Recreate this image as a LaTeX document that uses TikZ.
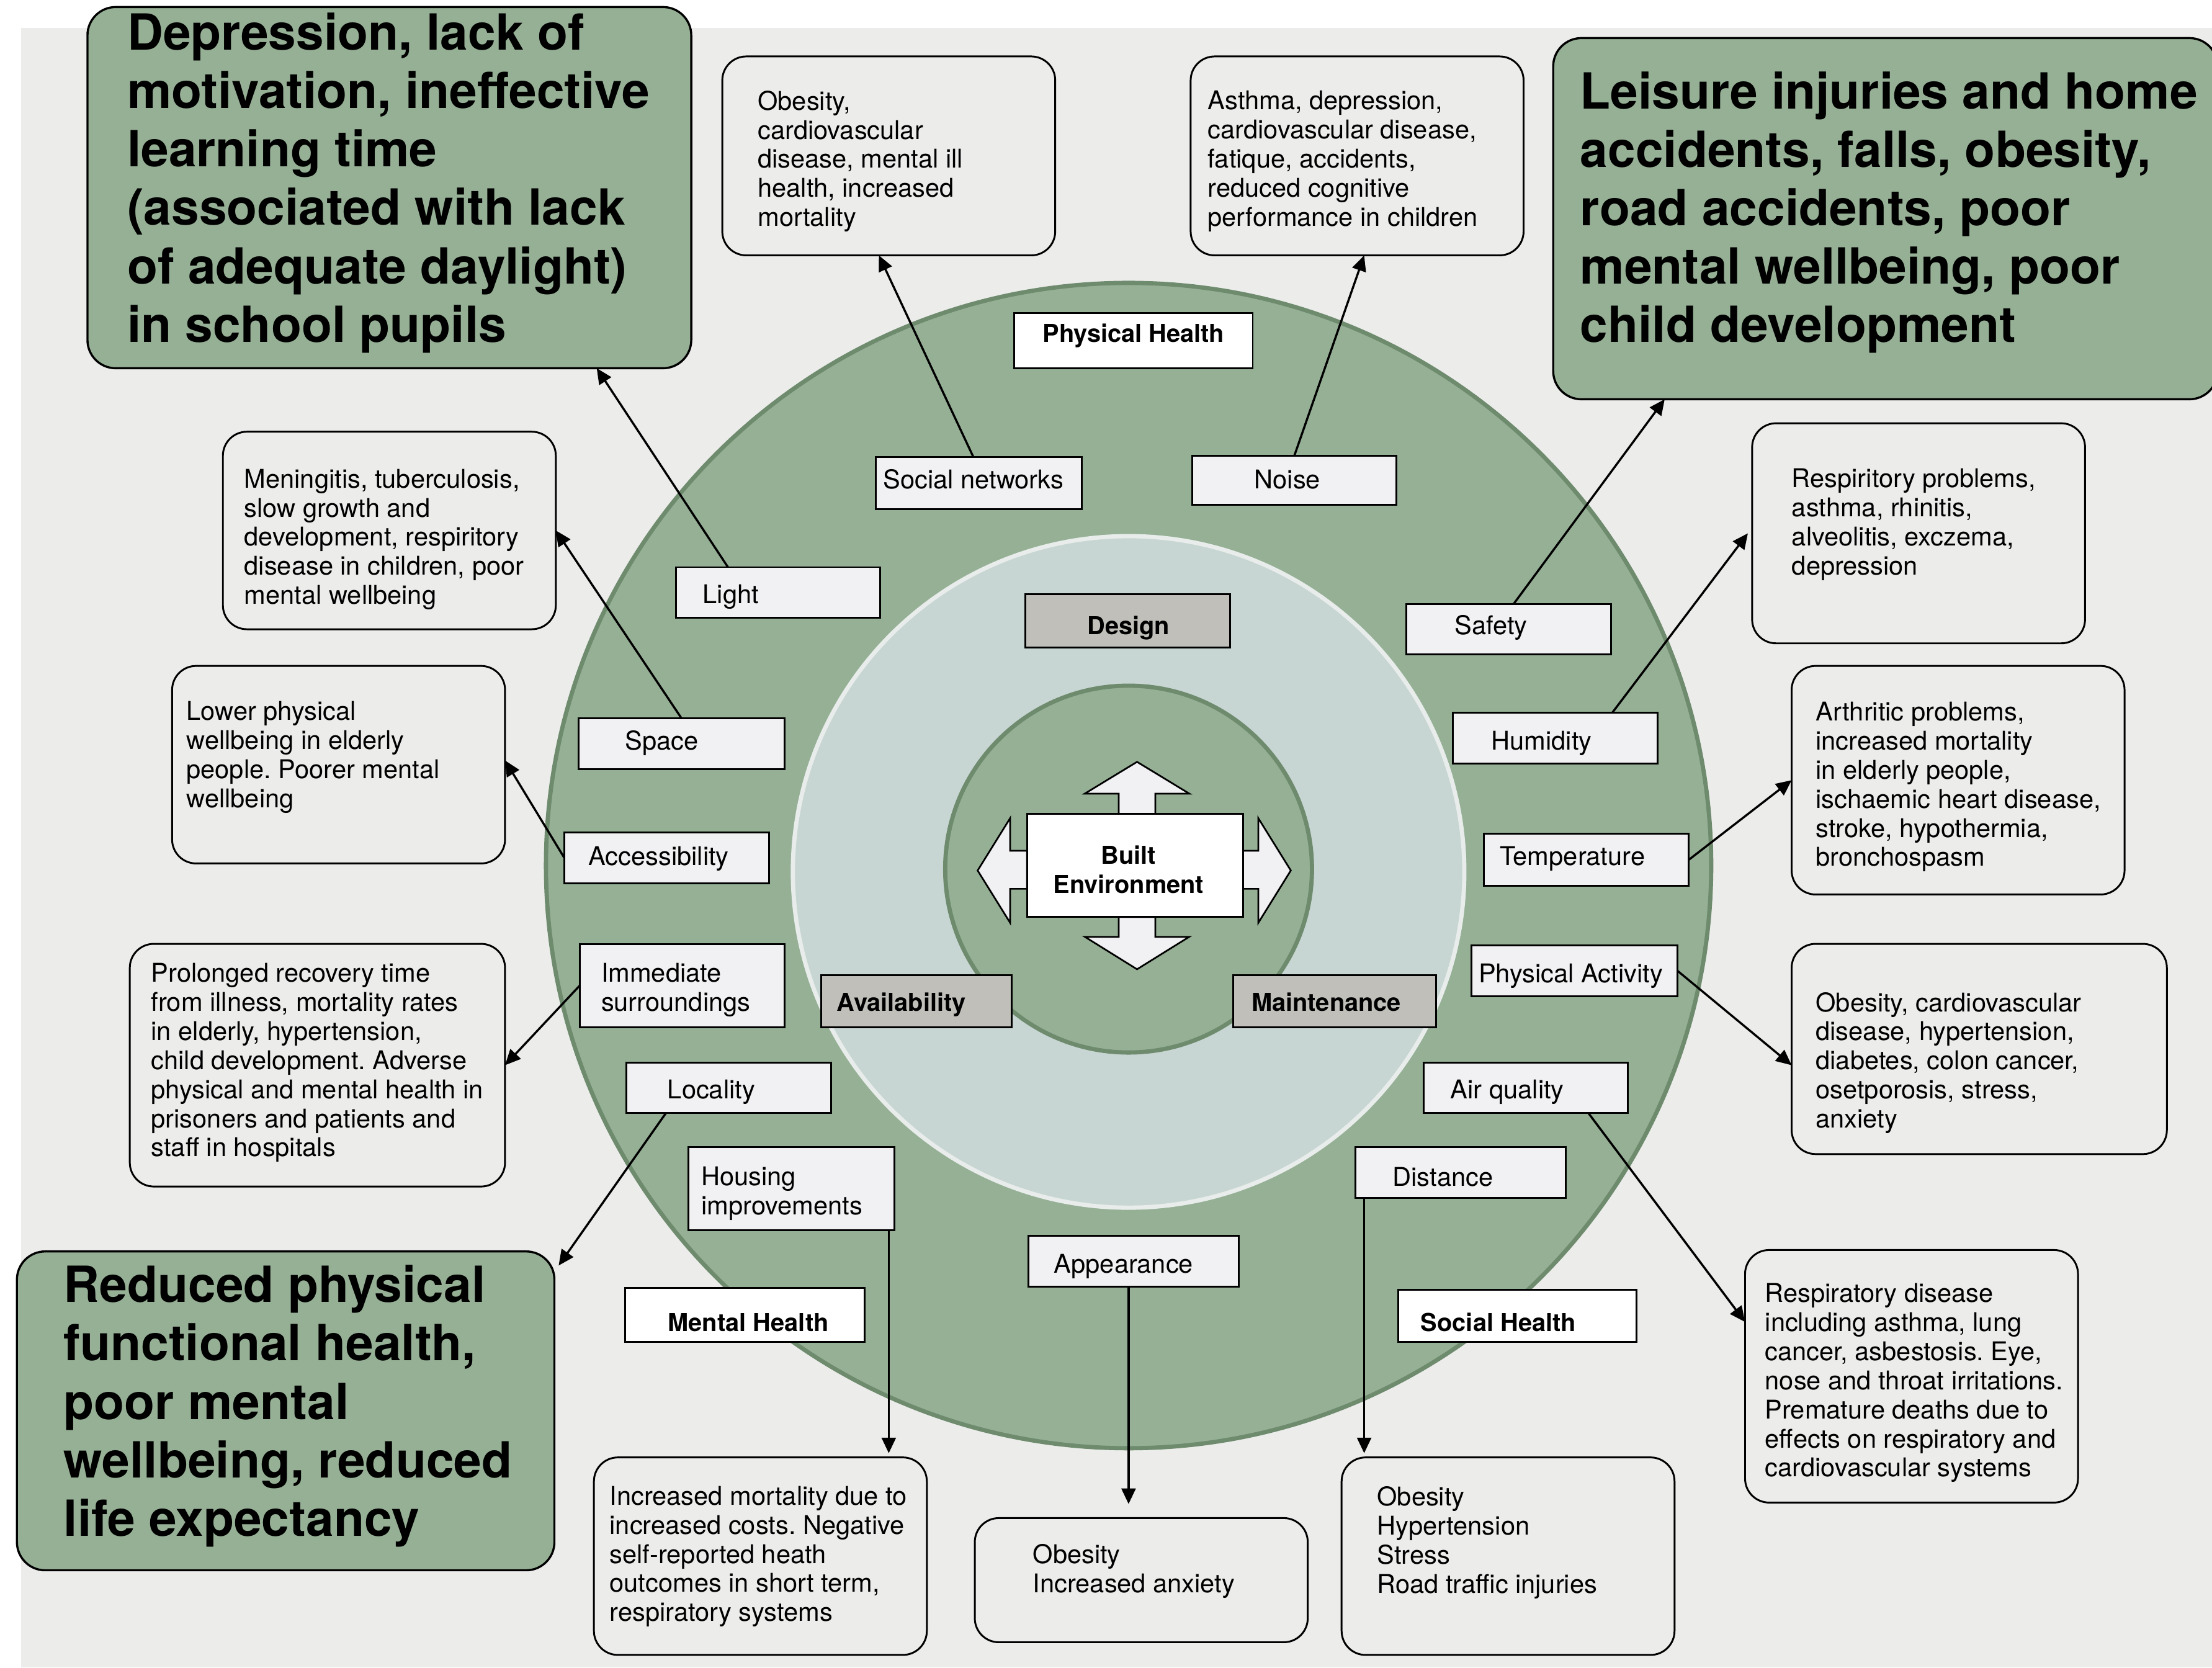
\documentclass[tikz,border=0pt]{standalone}
\usepackage{fontspec}
\setmainfont{TeX Gyre Heros}
\usetikzlibrary{arrows.meta}
\frenchspacing
\definecolor{panel}{HTML}{ECEDEB}
\definecolor{ring}{HTML}{96B096}
\definecolor{ringedge}{HTML}{6E8B6E}
\definecolor{midc}{HTML}{C8D6D3}
\definecolor{midedge}{HTML}{E8EDEB}
\definecolor{labfill}{HTML}{F1F0F2}
\definecolor{greylab}{HTML}{C0BFBA}
\tikzset{
 bigbox/.style={draw=black, line width=1.5pt, fill=ring, rounded corners=20pt, inner sep=0pt, outer sep=0pt},
 resbox/.style={draw=black, line width=1.3pt, fill=panel, rounded corners=17pt, inner sep=0pt, outer sep=0pt},
 factor/.style={draw=black, line width=1.3pt, fill=labfill, inner sep=0pt, outer sep=0pt},
 healthlab/.style={factor, fill=white},
 greybox/.style={factor, fill=greylab},
 txt/.style={inner sep=0pt, align=left, anchor=west, font=\fontsize{18.3}{20.6}\selectfont\frenchspacing, execute at begin node=\strut, execute at end node=\strut},
 bigtxt/.style={inner sep=0pt, align=left, anchor=west, font=\fontsize{35.3}{41.4}\selectfont\bfseries, execute at begin node=\strut, execute at end node=\strut},
 boldtxt/.style={inner sep=0pt, align=center, anchor=west, font=\fontsize{17.5}{20.6}\selectfont\bfseries, execute at begin node=\strut, execute at end node=\strut},
 conn/.style={line width=1.5pt, -{Triangle[length=11pt,width=10pt]}},
 bearrow/.style={draw=black, line width=1.2pt, fill=labfill, line join=miter},
}
\begin{document}
\frenchspacing
\begin{tikzpicture}[x=1pt,y=-1pt]
\useasboundingbox (0,0) rectangle (1568,1182);
\fill[white] (0,0) rectangle (1568,1182);
\fill[panel] (15,20) rectangle (1568,1182);

% rings
\fill[ring] (800,613.5) circle[radius=413pt];
\draw[ringedge, line width=3pt] (800,613.5) circle[radius=413pt];
\fill[midc] (800,618) circle[radius=238pt];
\draw[midedge, line width=3pt] (800,618) circle[radius=238pt];
\fill[ring] (800,616) circle[radius=130pt];
\draw[ringedge, line width=3pt] (800,616) circle[radius=130pt];

% big outcome boxes
\node[bigbox, minimum width=428pt, minimum height=256pt] (bigTL) at (276,133) {};
\node[bigbox, minimum width=471pt, minimum height=256pt] (bigTR) at (1336.5,155) {};
\node[bigbox, minimum width=381pt, minimum height=226pt] (bigBL) at (202.5,1000) {};
\node[bigtxt] (tTL) at (90,132) {Depression, lack of\\motivation, ineffective\\learning time\\(associated with lack\\of adequate daylight)\\in school pupils};
\node[bigtxt] (tTR) at (1120,153) {Leisure injuries and home\\accidents, falls, obesity,\\road accidents, poor\\mental wellbeing, poor\\child development};
\node[bigtxt] (tBL) at (45,999) {Reduced physical\\functional health,\\poor mental\\wellbeing, reduced\\life expectancy};

% small outcome boxes
\node[resbox, minimum width=236pt, minimum height=141pt] (rObes) at (630,110.5) {};
\node[resbox, minimum width=236pt, minimum height=141pt] (rAsth) at (962,110.5) {};
\node[resbox, minimum width=236pt, minimum height=140pt] (rMen) at (276,376) {};
\node[resbox, minimum width=236pt, minimum height=140pt] (rLow) at (240,542) {};
\node[resbox, minimum width=266pt, minimum height=172pt] (rProl) at (225,755) {};
\node[resbox, minimum width=236pt, minimum height=140pt] (rInc) at (539,1103) {};
\node[resbox, minimum width=236pt, minimum height=88pt] (rObAnx) at (809,1120) {};
\node[resbox, minimum width=236pt, minimum height=140pt] (rObHyp) at (1069,1103) {};
\node[resbox, minimum width=236pt, minimum height=179pt] (rResp) at (1355,975.5) {};
\node[resbox, minimum width=266pt, minimum height=149pt] (rObR) at (1403,743.5) {};
\node[resbox, minimum width=236pt, minimum height=162pt] (rArth) at (1388,553) {};
\node[resbox, minimum width=236pt, minimum height=156pt] (rRespi) at (1360,378) {};

\node[txt] (tObes) at (537,115.4) {Obesity,\\cardiovascular\\disease, mental ill\\health, increased\\mortality};
\node[txt] (tAsth) at (856,115.4) {Asthma, depression,\\cardiovascular disease,\\fatique, accidents,\\reduced cognitive\\performance in children};
\node[txt] (tMen) at (173,383.4) {Meningitis, tuberculosis,\\slow growth and\\development, respiritory\\disease in children, poor\\mental wellbeing};
\node[txt] (tLow) at (132,537.9) {Lower physical\\wellbeing in elderly\\people. Poorer mental\\wellbeing};
\node[txt] (tProl) at (107,754.4) {Prolonged recovery time\\from illness, mortality rates\\in elderly, hypertension,\\child development. Adverse\\physical and mental health in\\prisoners and patients and\\staff in hospitals};
\node[txt] (tInc) at (432,1104.4) {Increased mortality due to\\increased costs. Negative\\self-reported heath\\outcomes in short term,\\respiratory systems};
\node[txt] (tObAnx) at (732,1114.9) {Obesity\\Increased anxiety};
\node[txt] (tObHyp) at (976,1094.4) {Obesity\\Hypertension\\Stress\\Road traffic injuries};
\node[txt] (tResp) at (1251,981.4) {Respiratory disease\\including asthma, lung\\cancer, asbestosis. Eye,\\nose and throat irritations.\\Premature deaths due to\\effects on respiratory and\\cardiovascular systems};
\node[txt] (tObR) at (1287,754.4) {Obesity, cardiovascular\\disease, hypertension,\\diabetes, colon cancer,\\osetporosis, stress,\\anxiety};
\node[txt] (tArth) at (1287,558.9) {Arthritic problems,\\increased mortality\\in elderly people,\\ischaemic heart disease,\\stroke, hypothermia,\\bronchospasm};
\node[txt] (tRespi) at (1270,372.9) {Respiritory problems,\\asthma, rhinitis,\\alveolitis, exczema,\\depression};

% factor labels on the outer ring
\node[healthlab, minimum width=169pt, minimum height=39pt] (lPH) at (803.5,241.5) {};
\node[factor, minimum width=146pt, minimum height=37pt] (lSoc) at (694,342.5) {};
\node[factor, minimum width=145pt, minimum height=35pt] (lNoise) at (917.5,340.5) {};
\node[factor, minimum width=145pt, minimum height=36pt] (lLight) at (551.5,420) {};
\node[factor, minimum width=145pt, minimum height=36pt] (lSafety) at (1069.5,446) {};
\node[factor, minimum width=146pt, minimum height=36pt] (lSpace) at (483,527) {};
\node[factor, minimum width=145pt, minimum height=36pt] (lHum) at (1102.5,523) {};
\node[factor, minimum width=145pt, minimum height=36pt] (lAcc) at (472.5,608) {};
\node[factor, minimum width=145pt, minimum height=37pt] (lTemp) at (1124.5,609.5) {};
\node[factor, minimum width=145pt, minimum height=59pt] (lImm) at (483.5,698.5) {};
\node[factor, minimum width=146pt, minimum height=36pt] (lPA) at (1116,688) {};
\node[factor, minimum width=145pt, minimum height=36pt] (lLoc) at (516.5,771) {};
\node[factor, minimum width=145pt, minimum height=36pt] (lAir) at (1081.5,771) {};
\node[factor, minimum width=146pt, minimum height=59pt] (lHous) at (561,842.5) {};
\node[factor, minimum width=149pt, minimum height=36pt] (lDist) at (1035.5,831) {};
\node[factor, minimum width=149pt, minimum height=36pt] (lApp) at (803.5,894) {};
\node[healthlab, minimum width=170pt, minimum height=38pt] (lMH) at (528,932) {};
\node[healthlab, minimum width=169pt, minimum height=37pt] (lSH) at (1075.5,932.5) {};

\node[txt] (xSoc) at (626,342.4) {Social networks};
\node[txt] (xNoise) at (889,342.4) {Noise};
\node[txt] (xLight) at (498,423.4) {Light};
\node[txt] (xSafety) at (1031,445.4) {Safety};
\node[txt] (xSpace) at (443,527.4) {Space};
\node[txt] (xHum) at (1057,527.4) {Humidity};
\node[txt] (xAcc) at (417,609.4) {Accessibility};
\node[txt] (xTemp) at (1063,609.4) {Temperature};
\node[txt] (xImm) at (426,702.9) {Immediate\\surroundings};
\node[txt] (xPA) at (1048,692.4) {Physical Activity};
\node[txt] (xLoc) at (473,774.4) {Locality};
\node[txt] (xAir) at (1028,774.4) {Air quality};
\node[txt] (xHous) at (497,846.9) {Housing\\improvements};
\node[txt] (xDist) at (987,836.4) {Distance};
\node[txt] (xApp) at (747,898.4) {Appearance};
\node[boldtxt, anchor=center] (xPH) at (803.5,238.4) {Physical Health};
\node[boldtxt, anchor=center] (xMH) at (530.5,939.4) {Mental Health};
\node[boldtxt] (xSH) at (1007,939.4) {Social Health};

% inner grey labels
\node[greybox, minimum width=145pt, minimum height=38pt] (gDes) at (799.5,440) {};
\node[greybox, minimum width=135pt, minimum height=37pt] (gAv) at (649.5,709.5) {};
\node[greybox, minimum width=144pt, minimum height=37pt] (gMain) at (946,709.5) {};
\node[boldtxt, anchor=center] (xDes) at (800,445.4) {Design};
\node[boldtxt] (xAv) at (593,712.4) {Availability};
\node[boldtxt] (xMain) at (887,712.4) {Maintenance};

% central block arrows
\draw[bearrow] (793,577) -- (793,562.5) -- (769,562.5) -- (806,540) -- (843,562.5) -- (819,562.5) -- (819,577) -- cycle;
\draw[bearrow] (793,650) -- (793,664) -- (769,664) -- (806,687) -- (843,664) -- (819,664) -- (819,650) -- cycle;
\draw[bearrow] (728,603) -- (716,603) -- (716,580) -- (693,617) -- (716,654) -- (716,630) -- (728,630) -- cycle;
\draw[bearrow] (881,603) -- (892,603) -- (892,580) -- (915,617) -- (892,654) -- (892,630) -- (881,630) -- cycle;
\node[factor, fill=white, minimum width=153pt, minimum height=73pt] (BE) at (804.5,613.5) {};
\node[boldtxt, anchor=center] (xBE) at (800,619.4) {Built\\Environment};

% connectors
\draw[conn] ([xshift=-35.5pt]lLight.north) -- ([xshift=147pt]bigTL.south);
\draw[conn] ([xshift=-4pt]lSoc.north) -- ([xshift=-7pt]rObes.south);
\draw[conn] (lNoise.north) -- ([xshift=5pt]rAsth.south);
\draw[conn] ([xshift=3.5pt]lSafety.north) -- ([xshift=-156.5pt]bigTR.south);
\draw[conn] (lSpace.north) -- (rMen.east);
\draw[conn] ([xshift=40.5pt]lHum.north) -- ([xshift=-3pt]rRespi.west);
\draw[conn] (lAcc.west) -- ([yshift=3pt]rLow.east);
\draw[conn] (lTemp.east) -- (rArth.west);
\draw[conn] (lImm.west) -- (rProl.east);
\draw[conn] (lPA.east) -- ([yshift=-11.5pt]rObR.west);
\draw[conn] ([xshift=-44.5pt]lLoc.south) -- ([xshift=3pt,yshift=-10pt]bigBL.north east);
\draw[conn] ([xshift=44.5pt]lAir.south) -- ([yshift=38.5pt]rResp.west);
\draw[conn] ([xshift=69pt]lHous.south) -- ([xshift=91pt,yshift=3pt]rInc.north);
\draw[conn] ([xshift=-3.5pt]lApp.south) -- ([xshift=-9pt,yshift=10pt]rObAnx.north);
\draw[conn] ([xshift=6pt]lDist.south west) -- ([xshift=-102pt,yshift=3pt]rObHyp.north);
\end{tikzpicture}
\end{document}
